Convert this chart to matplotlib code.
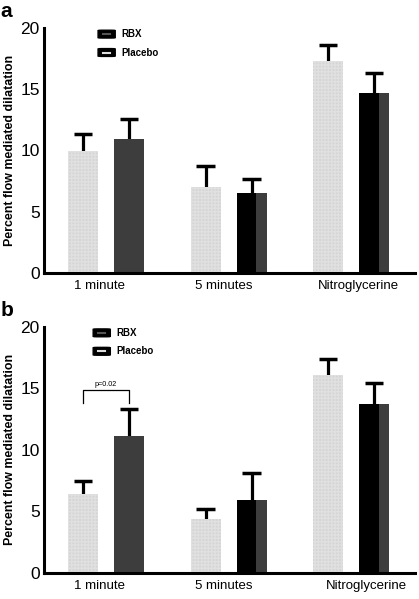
import matplotlib
matplotlib.use("Agg")
import matplotlib.pyplot as plt
from matplotlib.patches import FancyBboxPatch
import numpy as np

plt.rcParams['font.family'] = ['Liberation Sans', 'DejaVu Sans']

categories = ["1 minute", "5 minutes", "Nitroglycerine"]

# Panel a
a_placebo = [10.0, 7.0, 17.3]
a_placebo_err = [1.35, 1.7, 1.35]
a_rbx = [10.9, 6.5, 14.7]
a_rbx_err = [1.7, 1.15, 1.65]

# Panel b
b_placebo = [6.4, 4.4, 16.1]
b_placebo_err = [1.05, 0.75, 1.3]
b_rbx = [11.15, 5.95, 13.7]
b_rbx_err = [2.15, 2.15, 1.7]

rbx_split = [False, True, True]   # RBX bars rendered half black / half dark grey
y_ticks = [0, 5, 10, 15, 20]

W, H = 419, 599
fig = plt.figure(figsize=(W / 100, H / 100), dpi=100)

width = 0.245
off = 0.188
cap = 0.075
x = np.arange(len(categories))

def errs(ax, xs, vals, e):
    vals = np.asarray(vals)
    e = np.asarray(e)
    ax.vlines(xs, vals, vals + e, color='black', lw=2.3, zorder=1)
    ax.hlines(vals + e, xs - cap, xs + cap, color='black', lw=2.5, zorder=1)

def panel(rect, placebo, perr, rbx, rerr, label, sig=None, tick_shift=None, leg_x=0.0):
    ax = fig.add_axes(rect)
    ax.bar(x - off, placebo, width, color='#d5d5d5', edgecolor='none', zorder=2)
    ax.bar(x - off, placebo, width, color='none', edgecolor='#e0e0e0', hatch='+++++',
           linewidth=0, zorder=2)
    ax.bar(x + off, rbx, width, color='#3d3d3d', edgecolor='none', zorder=2)
    for i, s in enumerate(rbx_split):
        if s:
            ax.bar(x[i] + off - width / 2, rbx[i], width * 0.66, align='edge',
                   color='#000000', edgecolor='none', zorder=2)
    errs(ax, x - off, placebo, perr)
    errs(ax, x + off, rbx, rerr)
    ax.set_xlim(-0.506, 2.52)
    ax.set_ylim(0, 20)
    ax.set_yticks(y_ticks)
    ax.set_yticklabels([str(t) for t in y_ticks], fontsize=12.5)
    ax.set_xticks(x + (np.array(tick_shift) if tick_shift else 0))
    ax.set_xticklabels(categories, fontsize=9.5)
    ax.tick_params(length=0, pad=3)
    ax.tick_params(axis='x', pad=5)
    for s in ['top', 'right']:
        ax.spines[s].set_visible(False)
    for s in ['left', 'bottom']:
        ax.spines[s].set_linewidth(2.2)
    ax.set_ylabel("Percent flow mediated dilatation", fontsize=8.9, fontweight='bold',
                  labelpad=3)
    # legend-like keys
    for j, (name, inner) in enumerate([("RBX", '#555555'), ("Placebo", '#dddddd')]):
        yk = 19.5 - j * 1.5
        ax.add_patch(FancyBboxPatch((leg_x - 0.045, yk - 0.3), 0.1, 0.6,
                                    boxstyle="round,pad=0.02,rounding_size=0.03",
                                    facecolor='black', edgecolor='black',
                                    transform=ax.transData, zorder=3, clip_on=False))
        ax.plot([leg_x - 0.025, leg_x + 0.035], [yk, yk], color=inner, lw=1.5, zorder=4)
        ax.text(leg_x + 0.125, yk, name, fontsize=7, fontweight='bold', va='center',
                ha='left')
    if sig is not None:
        x0, x1, ylo, yhi, txt = sig
        ax.plot([x0, x0, x1, x1], [ylo, yhi, yhi, ylo], color='black', lw=0.9)
        ax.text((x0 + x1) / 2, yhi + 0.15, txt, fontsize=5.2, ha='center', va='bottom')
    fig.text(rect[0] - 0.103, rect[1] + rect[3] + 0.012, label, fontsize=15,
             fontweight='bold', ha='left', va='bottom')
    return ax

panel([44 / W, 1 - 273 / H, 371 / W, 245 / H], a_placebo, a_placebo_err,
      a_rbx, a_rbx_err, 'a', tick_shift=[-0.05, -0.04, 0.06], leg_x=0.0)
panel([44 / W, 1 - 572.7 / H, 371 / W, 246 / H], b_placebo, b_placebo_err,
      b_rbx, b_rbx_err, 'b', sig=(-off, off, 13.8, 14.85, "p=0.02"),
      tick_shift=[-0.05, -0.04, 0.12], leg_x=-0.04)

fig.savefig("out.png", dpi=100)
